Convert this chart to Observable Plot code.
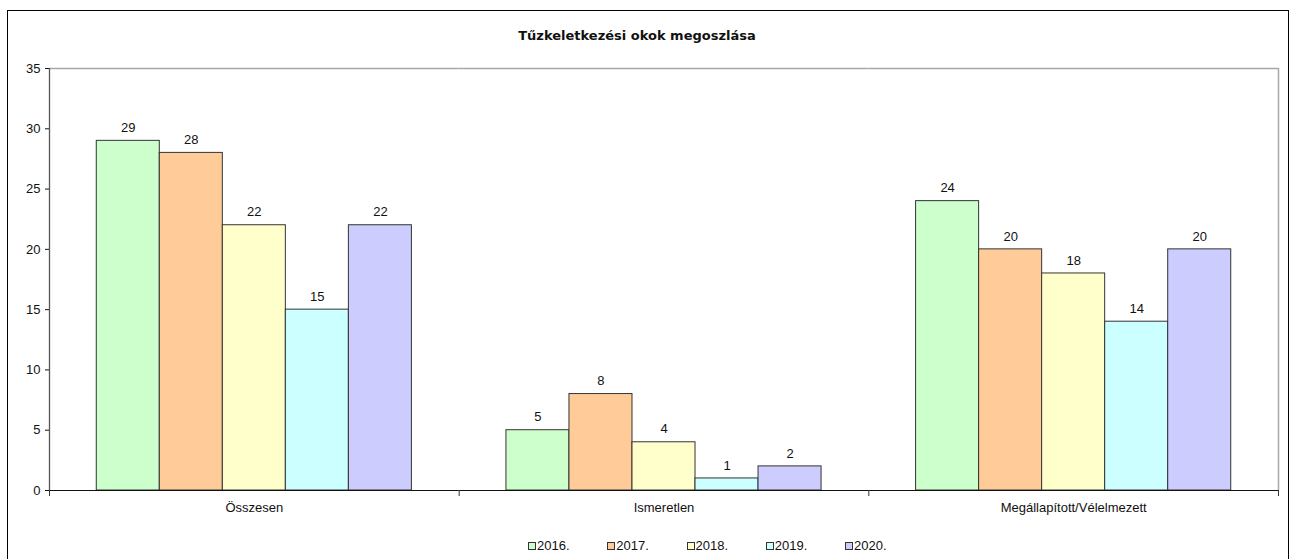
<!DOCTYPE html>
<html>
<head>
<meta charset="utf-8">
<script src="https://cdn.jsdelivr.net/npm/d3@7"></script>
<script src="https://cdn.jsdelivr.net/npm/@observablehq/plot@0.6"></script>
<style>
  html, body { margin: 0; padding: 0; background: #fff; }
  #wrap { position: relative; width: 1298px; height: 559px; overflow: hidden; font-family: "Liberation Sans", Arial, sans-serif; color: #111; }
  #frame { position: absolute; left: 7px; top: 10px; width: 1282px; height: 600px; border: 1px solid #000; box-sizing: border-box; }
  #title { position: absolute; left: 0; top: 28px; width: 1274px; text-align: center; font-family: "DejaVu Sans", sans-serif; font-weight: bold; font-size: 13px; }
  #chart { position: absolute; left: 0; top: 0; }
  #legend { position: absolute; left: 528px; top: 538px; display: flex; font-size: 13px; }
  .item { width: 79.25px; display: flex; align-items: center; white-space: nowrap; }
  .sw { width: 6px; height: 6px; border: 1px solid #333; margin-right: 1px; }
</style>
</head>
<body>
<div id="wrap">
  <div id="frame"></div>
  <div id="title"></div>
  <div id="chart"></div>
  <div id="legend"></div>
</div>
<script>
const titleText = "Tűzkeletkezési okok megoszlása";
const categories = ["Összesen", "Ismeretlen", "Megállapított/Vélelmezett"];
const years = ["2016.", "2017.", "2018.", "2019.", "2020."];
const values2016 = [29, 5, 24];
const values2017 = [28, 8, 20];
const values2018 = [22, 4, 18];
const values2019 = [15, 1, 14];
const values2020 = [22, 2, 20];
const yTicks = [0, 5, 10, 15, 20, 25, 30, 35];
const colors = ["#CCFFCC", "#FFCC99", "#FFFFCC", "#CCFFFF", "#CCCCFF"];

const series = [values2016, values2017, values2018, values2019, values2020];
const data = [];
years.forEach((yr, i) => categories.forEach((c, j) => data.push({cat: c, year: yr, value: series[i][j]})));

const W = 1298, H = 520, mL = 49, mR = 20, mT = 68, mB = 30;
const facetW = (W - mL - mR) / categories.length;
const step = facetW / (years.length + 1.5);
const edge = 1.25 * step; // from center of first band to facet boundary

const boundaries = categories.map(c => ({cat: c}));

document.getElementById("title").textContent = titleText;

const chart = Plot.plot({
  width: W, height: H,
  marginLeft: mL, marginRight: mR, marginTop: mT, marginBottom: mB,
  style: {fontFamily: "Liberation Sans, Arial, sans-serif", fontSize: "13px", color: "#111", background: "transparent", overflow: "visible"},
  fx: {domain: categories, padding: 0, round: false, label: null, tickSize: 0, tickPadding: 12},
  x: {domain: years, axis: null, round: false, paddingInner: 0, paddingOuter: 0.75},
  y: {domain: [0, 35], ticks: yTicks, tickSize: 4, tickPadding: 5, label: null},
  color: {domain: years, range: colors},
  marks: [
    Plot.ruleY([35], {stroke: "#a8a8a8", strokeWidth: 1.5}),
    Plot.ruleX([{cat: categories[categories.length - 1]}], {fx: "cat", x: () => years[years.length - 1], y1: 0, y2: 35, dx: edge, stroke: "#a8a8a8", strokeWidth: 1.5}),
    Plot.barY(data, {fx: "cat", x: "year", y: "value", fill: "year", stroke: "#333", strokeWidth: 1}),
    Plot.text(data, {fx: "cat", x: "year", y: "value", text: d => String(d.value), dy: -13, fill: "#111", fontSize: 13}),
    Plot.ruleY([0], {stroke: "#111", strokeWidth: 1.2}),
    Plot.ruleX([{cat: categories[0]}], {fx: "cat", x: () => years[0], y1: 0, y2: 35, dx: -edge, stroke: "#555", strokeWidth: 1.3}),
    Plot.ruleX(boundaries, {fx: "cat", x: () => years[0], y1: 0, y2: -0.5, dx: -edge, stroke: "#333"}),
    Plot.ruleX([{cat: categories[categories.length - 1]}], {fx: "cat", x: () => years[years.length - 1], y1: 0, y2: -0.5, dx: edge, stroke: "#333"})
  ]
});
document.getElementById("chart").appendChild(chart);

const legend = document.getElementById("legend");
years.forEach((yr, i) => {
  const it = document.createElement("div");
  it.className = "item";
  const sw = document.createElement("span");
  sw.className = "sw";
  sw.style.background = colors[i];
  const lb = document.createElement("span");
  lb.textContent = yr;
  it.appendChild(sw); it.appendChild(lb);
  legend.appendChild(it);
});
</script>
</body>
</html>
